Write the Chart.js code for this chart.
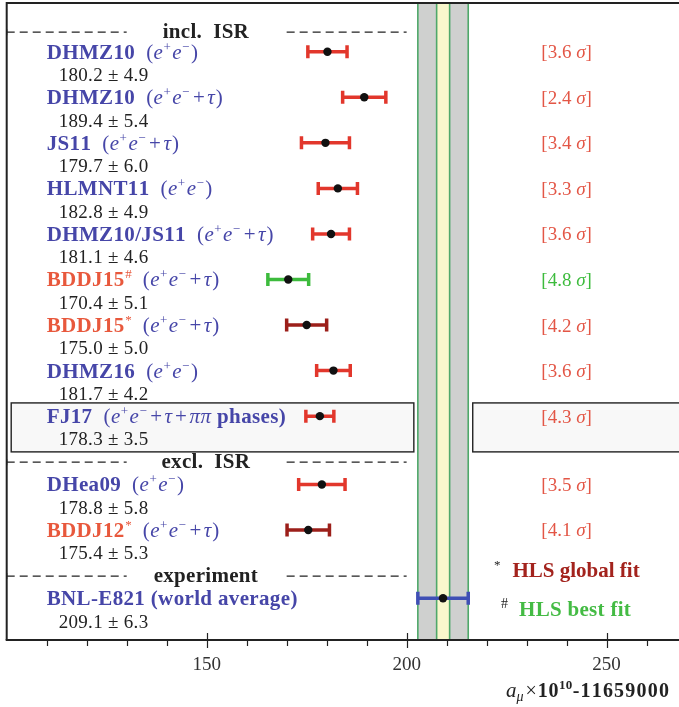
<!DOCTYPE html>
<html><head><meta charset="utf-8">
<script src="https://cdn.jsdelivr.net/npm/chart.js@4.4.1/dist/chart.umd.min.js"></script>
<style>html,body{margin:0;padding:0;background:#fff}canvas{display:block}</style>
</head><body>
<canvas id="c" width="679" height="707"></canvas>
<script>
// ---------- data ----------
const names    = ['DHMZ10','DHMZ10','JS11','HLMNT11','DHMZ10/JS11','BDDJ15','BDDJ15','DHMZ16','FJ17','DHea09','BDDJ12','BNL-E821 (world average)'];
const nameMarks= ['','','','','','#','*','','','','*',''];
const channels = ['ee','eet','eet','ee','eet','eet','eet','ee','eetpp','ee','eet',''];
const values   = [180.2,189.4,179.7,182.8,181.1,170.4,175.0,181.7,178.3,178.8,175.4,209.1];
const errors   = [4.9,5.4,6.0,4.9,4.6,5.1,5.0,4.2,3.5,5.8,5.3,6.3];
const rows     = [1,3,5,7,9,11,13,15,17,20,22,25];
const sigmas   = ['3.6','2.4','3.4','3.3','3.6','4.8','4.2','3.6','4.3','3.5','4.1',null];
const fitKind  = ['std','std','std','std','std','best','global','std','std','std','global','exp'];
const headers  = ['incl.  ISR','excl.  ISR','experiment'];
const headerRows = [0.12,19,24];
const bandLow  = [202.8,207.5];
const bandHigh = [215.4,210.75];
const xTicks   = [110,120,130,140,150,160,170,180,190,200,210,220,230,240,250,260];
const xTickLabels = [150,200,250];

// ---------- styles ----------
const SERIF = '"Liberation Serif","Times New Roman",serif';
const BLUE='#4646a8', ORANGE='#e8583c', BLACK='#222';
const barColor = {std:'#e2372c', best:'#3dbb3d', global:'#9c1f1a', exp:'#3f4fb5'};
const sigColor = {std:'#e35646', best:'#3dbb3d', global:'#e35646'};
const bandFill = ['#cfd0cf','#f9f7cc'];
const F=(sz,st)=>`${st||''} ${sz}px ${SERIF}`;

function seg(t,f,c,o){return Object.assign({t,f,c},o||{});}
function chanSegs(kind){
  if(!kind) return [];
  const n=F(21), it=F(21,'italic'), sp=F(13);
  const s=[seg('(',n,BLUE,{dx:11,after:0.5}),seg('e',it,BLUE),seg('+',sp,BLUE,{up:8,dx:0.5,after:1.5}),seg('e',it,BLUE),seg('\u2212',sp,BLUE,{up:8,dx:0.5,after:1.5})];
  if(kind==='eet'||kind==='eetpp'){s.push(seg('+',n,BLUE,{dx:2,after:2.5}),seg('\u03c4',it,BLUE,{after:1}));}
  if(kind==='eetpp'){s.push(seg('+',n,BLUE,{dx:2,after:2.5}),seg('\u03c0\u03c0',it,BLUE,{ls:0.5}),seg(' phases)',F(21,'bold'),BLUE,{ls:0.35}));}
  else s.push(seg(')',n,BLUE));
  return s;
}
function segWidth(ctx,s){ctx.font=s.f;const w=ctx.measureText(s.t).width;return w+(s.ls?s.ls*s.t.length:0);}
function measure(ctx,segs){let w=0;for(const s of segs){w+=(s.dx||0)+segWidth(ctx,s)+(s.after||0);}return w;}
function drawRich(ctx,x,base,segs){
  for(const s of segs){
    ctx.font=s.f;ctx.fillStyle=s.c;x+=(s.dx||0);
    if(s.ls){for(const ch of s.t){ctx.fillText(ch,x,base-(s.up||0));x+=ctx.measureText(ch).width+s.ls;}}
    else{ctx.fillText(s.t,x,base-(s.up||0));x+=ctx.measureText(s.t).width;}
    x+=(s.after||0);
  }
  return x;
}

const forest={
  id:'forest',
  beforeDatasetsDraw(chart){
    const {ctx,chartArea:a,scales:{x,y}}=chart;
    ctx.save();
    // bands
    for(let b=0;b<bandLow.length;b++){
      const x0=x.getPixelForValue(bandLow[b]), x1=x.getPixelForValue(bandHigh[b]);
      ctx.fillStyle=bandFill[b]; ctx.fillRect(x0,a.top,x1-x0,a.bottom-a.top);
      ctx.strokeStyle='#4fa86a'; ctx.lineWidth=1.6;
      ctx.beginPath(); ctx.moveTo(x0,a.top); ctx.lineTo(x0,a.bottom); ctx.moveTo(x1,a.top); ctx.lineTo(x1,a.bottom); ctx.stroke();
    }
    // highlight boxes for FJ17
    const fi=names.indexOf('FJ17');
    const by0=y.getPixelForValue(rows[fi]-0.58), by1=y.getPixelForValue(rows[fi]+1.57);
    const bl=x.getPixelForValue(bandLow[0]), bh=x.getPixelForValue(bandHigh[0]);
    ctx.fillStyle='#f8f8f8'; ctx.strokeStyle=BLACK; ctx.lineWidth=1.4;
    ctx.fillRect(a.left+4.5,by0,bl-4-(a.left+4.5),by1-by0); ctx.strokeRect(a.left+4.5,by0,bl-4-(a.left+4.5),by1-by0);
    ctx.fillRect(bh+4.5,by0,a.right+10-(bh+4.5),by1-by0); ctx.strokeRect(bh+4.5,by0,a.right+10-(bh+4.5),by1-by0);
    // dashed header lines
    ctx.setLineDash([8,5]); ctx.lineWidth=1.3; ctx.strokeStyle=BLACK;
    for(const r of headerRows){
      const py=y.getPixelForValue(r)+0.5;
      ctx.beginPath();
      ctx.moveTo(x.getPixelForValue(100),py); ctx.lineTo(x.getPixelForValue(130),py);
      ctx.moveTo(x.getPixelForValue(170),py); ctx.lineTo(x.getPixelForValue(200),py);
      ctx.stroke();
    }
    ctx.setLineDash([]);
    // frame
    ctx.lineWidth=2; ctx.strokeStyle=BLACK;
    ctx.beginPath(); ctx.moveTo(a.left,a.bottom); ctx.lineTo(a.left,a.top); ctx.lineTo(a.right,a.top); ctx.stroke();
    ctx.beginPath(); ctx.moveTo(a.left-1,a.bottom); ctx.lineTo(a.right,a.bottom); ctx.stroke();
    // header ticks on the left edge
    ctx.lineWidth=1.2;
    for(const r of headerRows){const py=y.getPixelForValue(r)+0.5;ctx.beginPath();ctx.moveTo(a.left,py-3);ctx.lineTo(a.left,py+3);ctx.stroke();}
    // x ticks
    ctx.lineWidth=1.2;
    for(const t of xTicks){
      const px=Math.round(x.getPixelForValue(t))+0.5;
      const major=xTickLabels.includes(t);
      ctx.beginPath(); ctx.moveTo(px,a.bottom-(major?7:0)); ctx.lineTo(px,a.bottom+(major?8:6)); ctx.stroke();
    }
    // error bars
    ctx.lineWidth=3.5;
    for(let i=0;i<values.length;i++){
      const c=barColor[fitKind[i]];
      const py=y.getPixelForValue(rows[i]);
      const x0=x.getPixelForValue(values[i]-errors[i]), x1=x.getPixelForValue(values[i]+errors[i]);
      ctx.strokeStyle=c;
      ctx.beginPath(); ctx.moveTo(x0,py); ctx.lineTo(x1,py);
      ctx.moveTo(x0,py-6.5); ctx.lineTo(x0,py+6.5); ctx.moveTo(x1,py-6.5); ctx.lineTo(x1,py+6.5); ctx.stroke();
    }
    ctx.restore();
  },
  afterDraw(chart){
    const {ctx,chartArea:a,scales:{x,y}}=chart;
    ctx.save(); ctx.textBaseline='alphabetic'; ctx.textAlign='left';
    const labelX=a.left+40, valueX=a.left+52;
    for(let i=0;i<names.length;i++){
      const py=y.getPixelForValue(rows[i]);
      const isBDDJ=nameMarks[i]!=='';
      const nc=isBDDJ?ORANGE:BLUE;
      const segs=[seg(names[i],F(21,'bold'),nc,{ls:0.35})];
      if(nameMarks[i]==='#') segs.push(seg('#',F(13),nc,{up:8,dx:0.5}));
      if(nameMarks[i]==='*') segs.push(seg('*',F(13),nc,{up:8,dx:0.5}));
      segs.push(...chanSegs(channels[i]));
      drawRich(ctx,labelX,py+7,segs);
      // value text
      const vy=y.getPixelForValue(rows[i]+1);
      drawRich(ctx,valueX,vy+6.5,[seg(values[i].toFixed(1)+' \u00b1 '+errors[i].toFixed(1),F(19),BLACK,{ls:0.3})]);
      // sigma
      if(sigmas[i]){
        const ss=[seg('['+sigmas[i]+' ',F(19),sigColor[fitKind[i]]),seg('\u03c3',F(19,'italic'),sigColor[fitKind[i]]),seg(']',F(19),sigColor[fitKind[i]])];
        const w=measure(ctx,ss);
        drawRich(ctx,x.getPixelForValue(240)-w/2,py+6.5,ss);
      }
    }
    // headers
    for(let h=0;h<headers.length;h++){
      const hs=[seg(headers[h],F(21,'bold'),BLACK,{ls:0.3})];
      const w=measure(ctx,hs);
      drawRich(ctx,x.getPixelForValue(149.8)-w/2,y.getPixelForValue(headerRows[h])+6.5,hs);
    }
    // tick labels
    ctx.font=F(19); ctx.fillStyle='#333'; ctx.textAlign='center';
    for(const t of xTickLabels) ctx.fillText(String(t),x.getPixelForValue(t),a.bottom+30);
    ctx.textAlign='left';
    // legend
    drawRich(ctx,494,577,[seg('*',F(13),BLACK,{up:8}),seg('HLS global fit',F(21,'bold'),'#a3231d',{dx:12})]);
    drawRich(ctx,501,616,[seg('#',F(14),BLACK,{up:8}),seg('HLS best fit',F(21,'bold'),'#44bb44',{dx:11,ls:0.3})]);
    // axis title
    const tt=[seg('a',F(21,'italic'),BLACK),seg('\u03bc',F(14,'italic'),BLACK,{up:-4,after:1}),seg('\u00d7',F(20),BLACK,{dx:1,after:1}),seg('10',F(20,'bold'),BLACK,{ls:0.6}),seg('10',F(13,'bold'),BLACK,{up:8,ls:0.3}),seg('-11659000',F(20,'bold'),BLACK,{ls:1.2})];
    const w=measure(ctx,tt);
    drawRich(ctx,669-w,697,tt);
    ctx.restore();
  }
};

new Chart(document.getElementById('c'),{
  type:'scatter',
  data:{datasets:[{data:values.map((v,i)=>({x:v,y:rows[i]})),pointRadius:4.2,pointBackgroundColor:'#111',pointBorderWidth:0,pointHoverRadius:4.2}]},
  options:{
    responsive:false, devicePixelRatio:1, animation:false,
    layout:{autoPadding:false,padding:{left:6.7,top:3,right:0,bottom:67}},
    plugins:{legend:{display:false},tooltip:{enabled:false}},
    scales:{
      x:{type:'linear',min:100,max:268.1,display:false},
      y:{type:'linear',min:-1.14,max:26.83,reverse:true,display:false}
    }
  },
  plugins:[forest]
});
</script>
</body></html>
